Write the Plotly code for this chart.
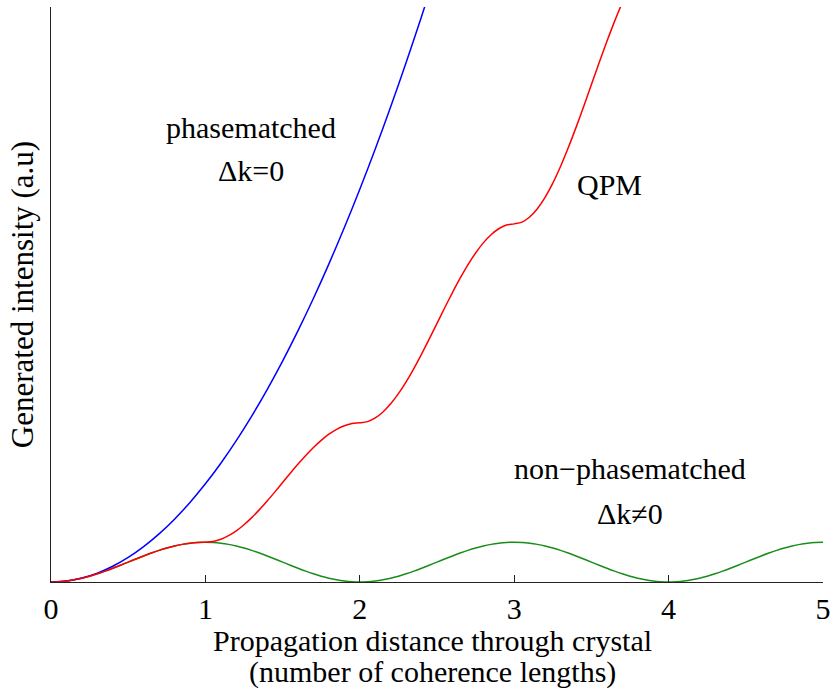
import plotly.graph_objects as go

# Propagation distance (coherence lengths), 0.05 steps
x_fine = [round(0.05 * i, 2) for i in range(101)]

# non-phasematched (Δk≠0) intensity
y_green = [0, 0.0062, 0.0245, 0.0545, 0.0955, 0.1464, 0.2061, 0.2730, 0.3455, 0.4218,
           0.5, 0.5782, 0.6545, 0.7270, 0.7939, 0.8536, 0.9045, 0.9455, 0.9755, 0.9938,
           1, 0.9938, 0.9755, 0.9455, 0.9045, 0.8536, 0.7939, 0.7270, 0.6545, 0.5782,
           0.5, 0.4218, 0.3455, 0.2730, 0.2061, 0.1464, 0.0955, 0.0545, 0.0245, 0.0062,
           0, 0.0062, 0.0245, 0.0545, 0.0955, 0.1464, 0.2061, 0.2730, 0.3455, 0.4218,
           0.5, 0.5782, 0.6545, 0.7270, 0.7939, 0.8536, 0.9045, 0.9455, 0.9755, 0.9938,
           1, 0.9938, 0.9755, 0.9455, 0.9045, 0.8536, 0.7939, 0.7270, 0.6545, 0.5782,
           0.5, 0.4218, 0.3455, 0.2730, 0.2061, 0.1464, 0.0955, 0.0545, 0.0245, 0.0062,
           0, 0.0062, 0.0245, 0.0545, 0.0955, 0.1464, 0.2061, 0.2730, 0.3455, 0.4218,
           0.5, 0.5782, 0.6545, 0.7270, 0.7939, 0.8536, 0.9045, 0.9455, 0.9755, 0.9938,
           1]

# phasematched (Δk=0) intensity
x_blue = [round(0.1 * i, 1) for i in range(26)]
y_blue = [0, 0.0247, 0.0987, 0.2221, 0.3948, 0.6169, 0.8883, 1.2090, 1.5791, 1.9986,
          2.4674, 2.9856, 3.5531, 4.1699, 4.8361, 5.5517, 6.3165, 7.1308, 7.9944, 8.9073,
          9.8696, 10.8812, 11.9422, 13.0526, 14.2122, 15.4213]

# QPM intensity
x_red = [round(0.05 * i, 2) for i in range(77)]
y_red = [0, 0.0062, 0.0245, 0.0545, 0.0955, 0.1464, 0.2061, 0.2730, 0.3455, 0.4218,
         0.5, 0.5782, 0.6545, 0.7270, 0.7939, 0.8536, 0.9045, 0.9455, 0.9755, 0.9938,
         1, 1.0185, 1.0734, 1.1635, 1.2865, 1.4393, 1.6183, 1.8190, 2.0365, 2.2653,
         2.5, 2.7347, 2.9635, 3.1810, 3.3817, 3.5607, 3.7135, 3.8365, 3.9266, 3.9815,
         4, 4.0308, 4.1224, 4.2725, 4.4775, 4.7322, 5.0305, 5.3650, 5.7275, 6.1089,
         6.5, 6.8911, 7.2725, 7.6350, 7.9695, 8.2678, 8.5225, 8.7275, 8.8776, 8.9692,
         9, 9.0431, 9.1713, 9.3815, 9.6684, 10.0251, 10.4427, 10.9110, 11.4184, 11.9525,
         12.5, 13.0475, 13.5816, 14.0890, 14.5573, 14.9749, 15.3316]

x_ticks = [0, 1, 2, 3, 4, 5]

FONT = "Liberation Serif"
FS = 30

fig = go.Figure()
fig.add_trace(go.Scatter(x=x_fine, y=y_green, mode="lines",
                         line=dict(color="#1a8c1a", width=1.5, shape="spline", smoothing=0.8),
                         name="non-phasematched"))
fig.add_trace(go.Scatter(x=x_blue, y=y_blue, mode="lines",
                         line=dict(color="#0000ff", width=1.5, shape="spline", smoothing=0.8),
                         name="phasematched"))
fig.add_trace(go.Scatter(x=x_red, y=y_red, mode="lines",
                         line=dict(color="#ff0000", width=1.5, shape="spline", smoothing=0.8),
                         name="QPM"))

annots = [
    ("phasematched", 1.298, 11.43),
    ("\u0394k=0", 1.298, 10.35),
    ("QPM", 3.618, 10.0),
    ("non\u2212phasematched", 3.747, 2.84),
    ("\u0394k\u22600", 3.747, 1.73),
]
for t, ax, ay in annots:
    fig.add_annotation(x=ax, y=ay, text=t, showarrow=False,
                       font=dict(family=FONT, size=FS, color="black"),
                       xanchor="center", yanchor="middle")

# x axis title (two lines)
for t, shift in [("Propagation distance through crystal", -58),
                 ("(number of coherence lengths)", -90)]:
    fig.add_annotation(x=2.474, xref="x", y=0, yref="paper", text=t, showarrow=False,
                       font=dict(family=FONT, size=FS, color="black"),
                       xanchor="center", yanchor="middle", yshift=shift)

fig.update_layout(
    width=838, height=690,
    margin=dict(l=51, r=9, t=7, b=108),
    paper_bgcolor="white", plot_bgcolor="white",
    showlegend=False,
    font=dict(family=FONT, size=FS, color="black"),
    xaxis=dict(range=[0, 5], tickvals=x_ticks, ticks="inside", ticklen=7,
               tickcolor="#222", showline=True, linecolor="#222", linewidth=1,
               showgrid=False, zeroline=False,
               tickfont=dict(family=FONT, size=FS, color="black")),
    yaxis=dict(range=[0, 14.45], showticklabels=False, ticks="",
               showline=True, linecolor="#222", linewidth=1,
               showgrid=False, zeroline=False,
               title=dict(text="Generated intensity (a.u)",
                          font=dict(family=FONT, size=31, color="black"), standoff=7)),
)

fig.write_html("out.html")
